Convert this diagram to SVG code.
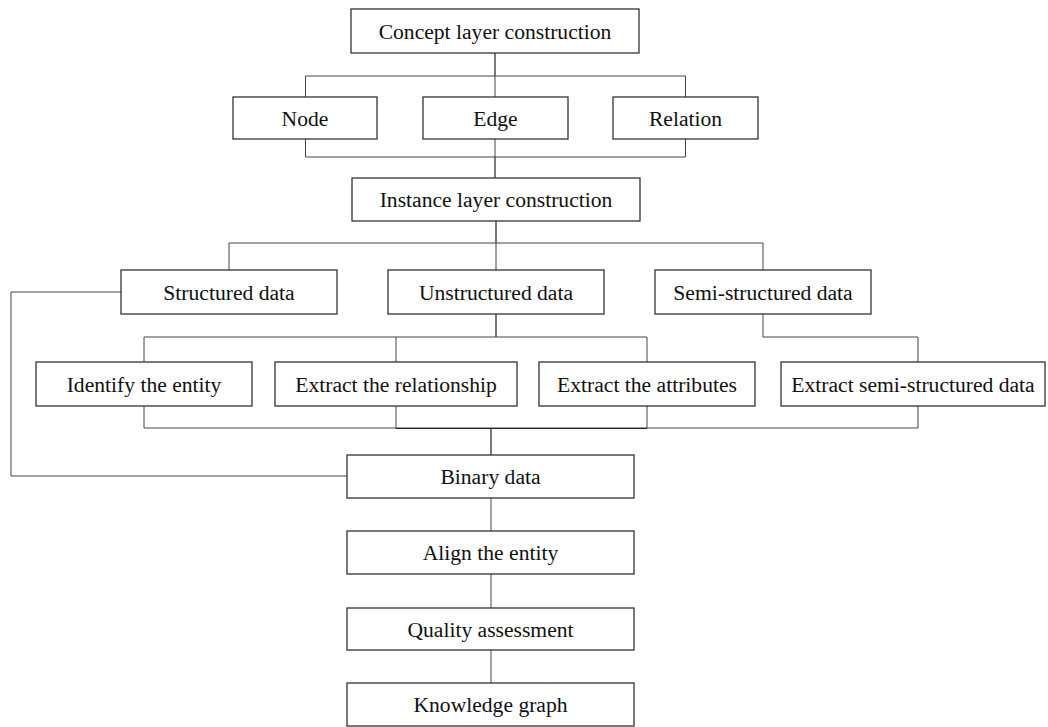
<svg xmlns="http://www.w3.org/2000/svg" width="1048" height="727" viewBox="0 0 1048 727">
<style>
.box{fill:#fff;stroke:#333;stroke-width:1.3}
.lbl{font-family:"Liberation Serif","Times New Roman",serif;font-size:21.6px;fill:#111;text-anchor:middle}
.con{fill:none;stroke:#222;stroke-width:1.2}
.thin{fill:none;stroke:#444;stroke-width:1}
</style>
<rect width="1048" height="727" fill="#fff"/>
<g id="connectors">
<path class="con" d="M495 53V76"/>
<path class="thin" d="M305.5 97V76H685.5V97M495 76V97"/>
<path class="thin" d="M305.5 139V157H685.5V139M495 139V157"/>
<path class="con" d="M495 157V178"/>
<path class="con" d="M496 221V243"/>
<path class="thin" d="M229 270V243H763V270M496 243V270"/>
<path class="con" d="M496 314V337"/>
<path class="thin" d="M144 362V337H647V362M396 337V362"/>
<path class="thin" d="M763 314V337H918V362"/>
<path class="thin" d="M144 406V428H918V406M647 406V428M396 406V428"/>
<path class="con" d="M396 428.5H647M491 428.5V455"/>
<path class="thin" d="M121 292H11V476H347"/>
<path class="thin" d="M491 498V531M491 574V608M491 650V683"/>
</g>
<g id="concept"><rect class="box" x="351" y="9" width="288" height="44"/><text class="lbl" x="495" y="38.5">Concept layer construction</text></g>
<g id="node"><rect class="box" x="233" y="97" width="144" height="42"/><text class="lbl" x="305" y="125.5">Node</text></g>
<g id="edge"><rect class="box" x="423" y="97" width="145" height="42"/><text class="lbl" x="495.5" y="125.5">Edge</text></g>
<g id="relation"><rect class="box" x="613" y="97" width="145" height="42"/><text class="lbl" x="685.5" y="125.5">Relation</text></g>
<g id="instance"><rect class="box" x="352" y="178" width="288" height="43"/><text class="lbl" x="496" y="207">Instance layer construction</text></g>
<g id="structured"><rect class="box" x="121" y="270" width="216" height="44"/><text class="lbl" x="229" y="299.5">Structured data</text></g>
<g id="unstructured"><rect class="box" x="388" y="270" width="216" height="44"/><text class="lbl" x="496" y="299.5">Unstructured data</text></g>
<g id="semi"><rect class="box" x="655" y="270" width="216" height="44"/><text class="lbl" x="763" y="299.5">Semi-structured data</text></g>
<g id="identify"><rect class="box" x="36" y="362" width="216" height="44"/><text class="lbl" x="144" y="391.5">Identify the entity</text></g>
<g id="extract-rel"><rect class="box" x="275" y="362" width="242" height="44"/><text class="lbl" x="396" y="391.5">Extract the relationship</text></g>
<g id="extract-attr"><rect class="box" x="539" y="362" width="216" height="44"/><text class="lbl" x="647" y="391.5">Extract the attributes</text></g>
<g id="extract-semi"><rect class="box" x="781" y="362" width="264" height="44"/><text class="lbl" x="913" y="391.5">Extract semi-structured data</text></g>
<g id="binary"><rect class="box" x="347" y="455" width="287" height="43"/><text class="lbl" x="490.5" y="484">Binary data</text></g>
<g id="align"><rect class="box" x="347" y="531" width="287" height="43"/><text class="lbl" x="490.5" y="560">Align the entity</text></g>
<g id="quality"><rect class="box" x="347" y="608" width="287" height="42"/><text class="lbl" x="490.5" y="636.5">Quality assessment</text></g>
<g id="knowledge"><rect class="box" x="347" y="683" width="287" height="43"/><text class="lbl" x="490.5" y="712">Knowledge graph</text></g>
</svg>
